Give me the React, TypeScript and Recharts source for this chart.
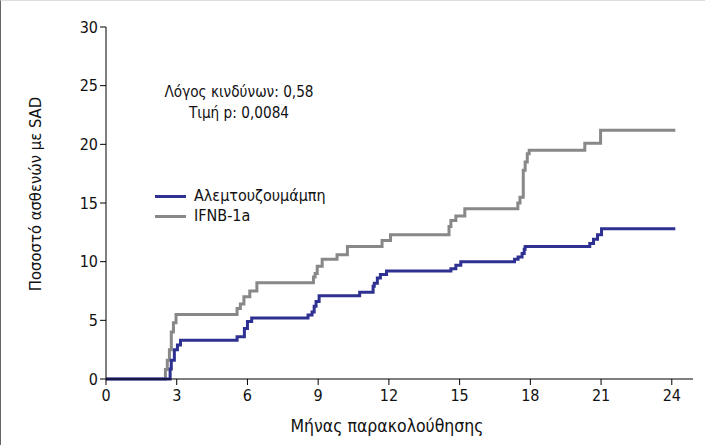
import React from 'react';
import { LineChart, Line, XAxis, YAxis } from 'recharts';

// ─── Data ─────────────────────────────────────────────────────────────────────

const MONTH_TICKS = [0, 3, 6, 9, 12, 15, 18, 21, 24];
const PCT_TICKS = [0, 5, 10, 15, 20, 25, 30];

// Αλεμτουζουμάμπη
const alemMonths = [
  0, 2.72, 2.77, 2.9, 3.03, 3.16, 3.37, 5.56, 5.87, 6.0, 6.18, 8.57, 8.74, 8.83, 8.91, 9.04,
  10.76, 11.33, 11.38, 11.51, 11.64, 11.9, 14.63, 14.84, 15.05, 17.33, 17.48, 17.65, 17.74,
  17.78, 20.52, 20.68, 20.85, 21.02, 24.15,
];
const alemPct = [
  0, 0.85, 1.6, 2.5, 2.9, 3.3, 3.3, 3.6, 4.3, 4.9, 5.2, 5.45, 5.7, 6.2, 6.6, 7.1,
  7.4, 7.9, 8.15, 8.6, 8.9, 9.2, 9.4, 9.7, 10.0, 10.2, 10.4, 10.7, 11.05,
  11.3, 11.55, 11.9, 12.3, 12.8, 12.8,
];

// IFNB-1a
const ifnbMonths = [
  0, 2.48, 2.52, 2.6, 2.69, 2.77, 2.86, 2.97, 5.56, 5.7, 5.85, 6.1, 6.4, 8.8, 8.87, 8.96, 9.17,
  9.8, 10.24, 11.71, 12.07, 14.55, 14.63, 14.84, 15.22, 17.47, 17.56, 17.7, 17.78, 17.87, 17.95,
  20.31, 20.98, 24.15,
];
const ifnbPct = [
  0, 0, 0.8, 1.6, 2.5, 4.0, 4.8, 5.5, 6.0, 6.4, 7.0, 7.5, 8.2, 8.7, 9.0, 9.6, 10.2,
  10.6, 11.3, 11.8, 12.3, 13.0, 13.5, 13.9, 14.5, 15.0, 15.5, 17.8, 18.5, 19.2, 19.5,
  20.1, 21.2, 21.2,
];

const toPoints = (xs: number[], ys: number[]) => xs.map((x, i) => ({ x, y: ys[i] }));

const alemData = toPoints(alemMonths, alemPct);
const ifnbData = toPoints(ifnbMonths, ifnbPct);

const BLUE = '#2e3192';
const GRAY = '#888888';
const FONT = "'DejaVu Sans Condensed', 'Liberation Sans Narrow', sans-serif";

const LEGEND_ITEMS = [
  { name: 'Αλεμτουζουμάμπη', color: BLUE },
  { name: 'IFNB-1a', color: GRAY },
];

export default function App() {
  return (
    <div
      style={{
        position: 'absolute',
        left: 0,
        top: 0,
        width: 705,
        height: 445,
        background: '#fff',
        boxSizing: 'border-box',
        borderLeft: '1px solid #666',
        borderTop: '1px solid #ddd',
        fontFamily: FONT,
        color: '#111',
      }}
    >
      <LineChart width={704} height={444} margin={{ top: 26, right: 12, bottom: 6, left: 0 }}>
        <XAxis
          dataKey="x"
          type="number"
          domain={[0, 24.9]}
          ticks={MONTH_TICKS}
          allowDataOverflow
          stroke="#000"
          tickSize={6}
          tick={{ fontSize: 16, fill: '#111', fontFamily: FONT, dy: 3 }}
          height={60}
        />
        <YAxis
          type="number"
          domain={[0, 30]}
          ticks={PCT_TICKS}
          stroke="#000"
          tickSize={6}
          width={105}
          tick={{ fontSize: 16, fill: '#111', fontFamily: FONT }}
        />
        <Line
          data={ifnbData}
          dataKey="y"
          name="IFNB-1a"
          type="stepAfter"
          stroke={GRAY}
          strokeWidth={3}
          dot={false}
          isAnimationActive={false}
        />
        <Line
          data={alemData}
          dataKey="y"
          name="Αλεμτουζουμάμπη"
          type="stepAfter"
          stroke={BLUE}
          strokeWidth={3}
          dot={false}
          isAnimationActive={false}
        />
      </LineChart>

      {/* axis titles */}
      <div
        style={{
          position: 'absolute',
          left: 35 - 120,
          top: 193 - 11,
          width: 240,
          height: 22,
          lineHeight: '22px',
          textAlign: 'center',
          fontSize: 16.5,
          transform: 'rotate(-90deg)',
          whiteSpace: 'nowrap',
        }}
      >
        Ποσοστό ασθενών με SAD
      </div>
      <div
        style={{
          position: 'absolute',
          left: 186,
          top: 414,
          width: 400,
          lineHeight: '22px',
          textAlign: 'center',
          fontSize: 17.5,
          whiteSpace: 'nowrap',
        }}
      >
        Μήνας παρακολούθησης
      </div>

      {/* annotation */}
      <div
        style={{
          position: 'absolute',
          left: 138,
          top: 81,
          width: 200,
          textAlign: 'center',
          fontSize: 15.2,
          lineHeight: '21px',
        }}
      >
        <div>Λόγος κινδύνων: 0,58</div>
        <div>Τιμή p: 0,0084</div>
      </div>

      {/* legend */}
      <div style={{ position: 'absolute', left: 154, top: 185, fontSize: 16, lineHeight: '20px' }}>
        {LEGEND_ITEMS.map((item) => (
          <div key={item.name} style={{ display: 'flex', alignItems: 'center' }}>
            <span style={{ display: 'inline-block', width: 31, height: 3, background: item.color, marginRight: 8 }} />
            <span>{item.name}</span>
          </div>
        ))}
      </div>
    </div>
  );
}
